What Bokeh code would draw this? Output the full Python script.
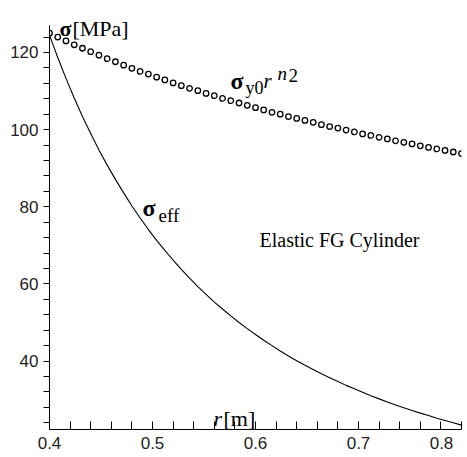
from bokeh.plotting import figure
from bokeh.models import FixedTicker, Range1d
from bokeh.core.properties import value
from bokeh.embed import file_html
from bokeh.resources import INLINE

# ---- data ----
r = [0.400, 0.408, 0.416, 0.424, 0.432, 0.440, 0.448, 0.456, 0.464, 0.472,
     0.480, 0.488, 0.496, 0.504, 0.512, 0.520, 0.528, 0.536, 0.544, 0.552,
     0.560, 0.568, 0.576, 0.584, 0.592, 0.600, 0.608, 0.616, 0.624, 0.632,
     0.640, 0.648, 0.656, 0.664, 0.672, 0.680, 0.688, 0.696, 0.704, 0.712,
     0.720, 0.728, 0.736, 0.744, 0.752, 0.760, 0.768, 0.776, 0.784, 0.792,
     0.800]
sigma_y = [125.0, 124.0, 123.0, 122.0, 121.1, 120.2, 119.3, 118.4, 117.6, 116.7,
           115.9, 115.1, 114.4, 113.6, 112.9, 112.1, 111.4, 110.7, 110.1, 109.4,
           108.8, 108.1, 107.5, 106.9, 106.3, 105.7, 105.1, 104.5, 104.0, 103.4,
           102.9, 102.4, 101.9, 101.3, 100.8, 100.4, 99.9, 99.4, 98.9, 98.5,
           98.0, 97.6, 97.1, 96.7, 96.3, 95.8, 95.4, 95.0, 94.6, 94.2,
           93.8]
sigma_eff = [124.5, 118.7, 113.3, 108.2, 103.4, 99.0, 94.7, 90.8, 87.1, 83.6,
             80.2, 77.1, 74.1, 71.3, 68.7, 66.2, 63.8, 61.5, 59.3, 57.3,
             55.3, 53.5, 51.7, 50.0, 48.4, 46.9, 45.4, 44.0, 42.6, 41.3,
             40.1, 38.9, 37.8, 36.7, 35.7, 34.7, 33.7, 32.8, 31.9, 31.0,
             30.2, 29.4, 28.6, 27.9, 27.2, 26.5, 25.9, 25.2, 24.6, 24.0,
             23.4]

x_major = [0.4, 0.5, 0.6, 0.7, 0.8]
x_labels = ["0.4", "0.5", "0.6", "0.7", "0.8"]
x_minor = [0.42, 0.44, 0.46, 0.48, 0.52, 0.54, 0.56, 0.58, 0.62, 0.64,
           0.66, 0.68, 0.72, 0.74, 0.76, 0.78]
y_major = [40, 60, 80, 100, 120]
y_minor = [24, 28, 32, 36, 44, 48, 52, 56, 64, 68, 72, 76, 84, 88, 92, 96,
           104, 108, 112, 116, 124]

SERIF = "Liberation Serif"
SANS = "Liberation Sans"

p = figure(width=467, height=457, output_backend="svg", toolbar_location=None,
           title=None, x_range=Range1d(0.4, 0.8), y_range=Range1d(22.26, 133.48),
           min_border_left=49, min_border_right=6, min_border_top=0,
           min_border_bottom=28)
p.outline_line_color = None
p.xgrid.visible = False
p.ygrid.visible = False
p.background_fill_color = "white"
p.border_fill_color = "white"

# curves
p.line(r, sigma_eff, line_color="black", line_width=1.1)
p.scatter(r, sigma_y, marker="circle", size=5.5, fill_color="white",
          line_color="black", line_width=1.3)

# axes
xa = p.xaxis[0]
xa.ticker = FixedTicker(ticks=x_major, minor_ticks=x_minor)
xa.bounds = (0.4, 0.8)
xa.major_tick_in = 8
xa.major_tick_out = 0
xa.minor_tick_in = 8
xa.minor_tick_out = 0
# last label padded with no-break spaces so that it stays inside the canvas
xa.major_label_overrides = {t: (s if t != 0.8 else s + "\u00a0\u00a0\u00a0")
                            for t, s in zip(x_major, x_labels)}
xa.major_label_standoff = 4
xa.major_label_text_font = SANS
xa.major_label_text_font_size = "17px"
xa.major_label_text_color = "#222222"
xa.axis_line_color = "black"
xa.major_tick_line_color = "black"
xa.minor_tick_line_color = "black"

ya = p.yaxis[0]
ya.ticker = FixedTicker(ticks=y_major, minor_ticks=y_minor)
ya.bounds = (22.26, 127)
ya.major_tick_in = 0
ya.major_tick_out = 6
ya.minor_tick_in = 0
ya.minor_tick_out = 6
ya.major_label_standoff = 5
ya.major_label_text_font = SANS
ya.major_label_text_font_size = "17px"
ya.major_label_text_color = "#222222"
ya.axis_line_color = "black"
ya.major_tick_line_color = "black"
ya.minor_tick_line_color = "black"


def txt(x, y, s, size, style="normal"):
    p.text([x], [y], text=[s], text_font=value(SERIF), text_font_size=size,
           text_font_style=style, text_baseline="alphabetic", text_align="left",
           text_color="black")


# y-axis title
txt(0.4097, 126.2, "σ", "22px", "bold")
txt(0.4223, 126.2, "[MPa]", "22px")
# sigma_y0 r^n2
txt(0.5757, 112.7, "σ", "24px", "bold")
txt(0.5903, 110.7, "y0", "18px")
txt(0.6078, 112.7, "r", "21px", "italic")
txt(0.6214, 114.5, "n", "19px", "italic")
txt(0.6320, 114.1, "2", "19px")
# sigma_eff
txt(0.4903, 79.8, "σ", "24px", "bold")
txt(0.5058, 77.7, "eff", "19px")
# annotation
txt(0.6039, 71.5, "Elastic FG Cylinder", "20px")
# x-axis title
txt(0.5592, 25.1, "r", "22px", "italic")
txt(0.5689, 25.1, "[m]", "22px")

open("out.html", "w").write(file_html(p, INLINE))
